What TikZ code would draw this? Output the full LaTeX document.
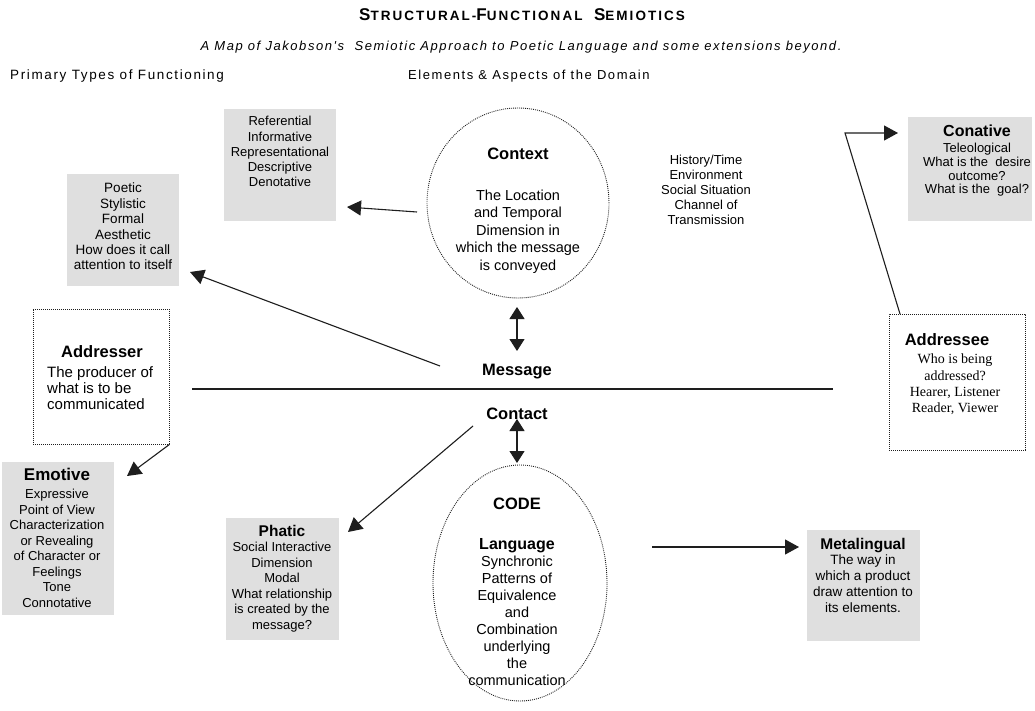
\documentclass[tikz,border=0pt]{standalone}
\usepackage{fontspec}
\setmainfont{Liberation Sans}
\newfontfamily\serifx{Liberation Serif}
\newfontfamily\spacedx[LetterSpace=12]{Liberation Sans}
\newfontfamily\titlex[LetterSpace=15]{Liberation Sans}
\usetikzlibrary{shapes.geometric,arrows.meta}
\definecolor{boxgray}{RGB}{223,223,223}
\definecolor{ink}{RGB}{30,30,30}
\newcommand{\fsz}[2]{\fontsize{#1}{#2}\selectfont}
\newcommand{\TitBig}{\fontsize{17}{20}\selectfont}
\newcommand{\TitSm}{\fontsize{13.5}{20}\selectfont}
\begin{document}
\begin{tikzpicture}[x=1pt,y=-1pt,
  graybox/.style={fill=boxgray, draw=none, inner sep=0pt},
  dotbox/.style={draw=ink, line width=0.9pt, dash pattern=on 0.9pt off 1.1pt, inner sep=0pt},
  dotell/.style={ellipse, draw=ink, line width=0.9pt, dash pattern=on 0.9pt off 1.1pt, inner sep=0pt},
  txt/.style={inner sep=0pt, align=center, anchor=north},
  ttl/.style={inner sep=0pt, anchor=base, font=\bfseries\fsz{16.5}{18}},
  conn/.style={draw=ink, line width=1.1pt},
  arr/.style={conn, -{Triangle[length=14pt,width=15pt]}},
  darr/.style={conn, {Triangle[length=12pt,width=15pt]}-{Triangle[length=12pt,width=15pt]}},
]
\useasboundingbox (0,0) rectangle (1035,711);
\fill[white] (0,0) rectangle (1035,711);

% headings
\node[anchor=base, inner sep=0pt] (title) at (522,21)
  {\titlex\bfseries\TitBig S\TitSm TRUCTURAL-\TitBig F\TitSm UNCTIONAL\ \ \TitBig S\TitSm EMIOTICS};
\node[anchor=base, inner sep=0pt] (sub) at (521,50.7)
  {\spacedx\itshape\fsz{13}{15}A Map of Jakobson's\ \ Semiotic Approach to Poetic Language and some extensions beyond.};
\node[anchor=base west, inner sep=0pt] (h1) at (10,79.7) {\spacedx\fsz{13.5}{15}Primary Types of Functioning};
\node[anchor=base west, inner sep=0pt] (h2) at (408,79.7) {\spacedx\fsz{13}{15}Elements \& Aspects of the Domain};

% gray boxes
\node[graybox, minimum width=112pt, minimum height=112pt] (ref) at (280,165) {};
\node[graybox, minimum width=112pt, minimum height=112pt] (poe) at (123,230) {};
\node[graybox, minimum width=124pt, minimum height=104pt] (con) at (970,169) {};
\node[graybox, minimum width=112pt, minimum height=153pt] (emo) at (58,538.5) {};
\node[graybox, minimum width=113pt, minimum height=122pt] (pha) at (282.5,579) {};
\node[graybox, minimum width=113pt, minimum height=111pt] (met) at (863.5,585.5) {};

% dotted boxes
\node[dotbox, minimum width=136pt, minimum height=135pt] (adr) at (101,376.5) {};
\node[dotbox, minimum width=136pt, minimum height=136pt] (ade) at (957,382) {};

% ellipses
\node[dotell, minimum width=182pt, minimum height=190pt] (ctx) at (518,203) {};
\node[dotell, minimum width=174pt, minimum height=236pt] (code) at (520,583) {};

% texts
\node[txt, font=\fsz{13}{15.25}] (reft) at (280,116.2)
  {Referential\\Informative\\Representational\\Descriptive\\Denotative};
\node[txt, font=\fsz{13.5}{15.4}] (poet) at (123,183)
  {Poetic\\Stylistic\\Formal\\Aesthetic\\How does it call\\attention to itself};
\node[ttl] (ctxh) at (518,160) {Context};
\node[txt, font=\fsz{14.5}{17.5}] (ctxt) at (518,189.6)
  {The Location\\and Temporal\\Dimension in\\which the message\\is conveyed};
\node[txt, font=\fsz{13}{15}] (hist) at (706,155.2)
  {History/Time\\Environment\\Social Situation\\Channel of\\Transmission};
\node[ttl, font=\bfseries\fsz{16}{18}] (conh) at (977,136.8) {Conative};
\node[txt, font=\fsz{13}{13.6}] (cont) at (977,143.2)
  {Teleological\\What is the\ \ desire\\outcome?\\What is the\ \ goal?};
\node[ttl] (adeh) at (947,345) {Addressee};
\node[txt, font=\serifx\fsz{14}{16.4}] (adet) at (955,353.8)
  {Who is being\\addressed?\\Hearer, Listener\\Reader, Viewer};
\node[ttl] (msg) at (517,375) {Message};
\node[ttl] (ctc) at (517,419) {Contact};
\node[ttl] (adrh) at (102,357) {Addresser};
\node[txt, anchor=north west, align=left, font=\fsz{15}{16}] (adrt) at (47,366.5)
  {The producer of\\what is to be\\communicated};
\node[ttl, font=\bfseries\fsz{17}{18}] (emoh) at (57,480) {Emotive};
\node[txt, font=\fsz{13}{15.5}] (emot) at (57,489.2)
  {Expressive\\Point of View\\Characterization\\or Revealing\\of Character or\\Feelings\\Tone\\Connotative};
\node[ttl, font=\bfseries\fsz{15.5}{18}] (phah) at (282,536.6) {Phatic};
\node[txt, font=\fsz{13}{15.5}] (phat) at (282,542.2)
  {Social Interactive\\Dimension\\Modal\\What relationship\\is created by the\\message?};
\node[ttl] (codeh) at (517,509) {CODE};
\node[ttl, font=\bfseries\fsz{16}{18}] (lang) at (517,549.8) {Language};
\node[txt, font=\fsz{14.5}{17}] (codet) at (517,555.6)
  {Synchronic\\Patterns of\\Equivalence\\and\\Combination\\underlying\\the\\communication};
\node[ttl, font=\bfseries\fsz{15.5}{18}] (meth) at (863,549.6) {Metalingual};
\node[txt, font=\fsz{13.5}{15.7}] (mett) at (863,555)
  {The way in\\which a product\\draw attention to\\its elements.};

% connector points
\coordinate (ctxout) at (417,212);
\coordinate (refin) at (347,207);
\coordinate (msgout) at (440,366);
\coordinate (poein) at (190,272);
\coordinate (ctxbot) at (517,307);
\coordinate (msgtop) at (517,351);
\coordinate (ctcbot) at (517,419);
\coordinate (codetop) at (517,463);
\coordinate (ctcout) at (473,426);
\coordinate (phain) at (348,532);
\coordinate (emoin) at (127,476);
\coordinate (adetop) at (900,314);
\coordinate (bend) at (845,133);
\coordinate (conin) at (898,133);
\coordinate (codeout) at (652,547);
\coordinate (metin) at (799,547);
\coordinate (hl) at (192,389);
\coordinate (hr) at (833,389);

% connectors
\draw[conn] (hl) -- (hr);
\draw[arr] (ctxout) -- (refin);
\draw[arr] (msgout) -- (poein);
\draw[darr] (ctxbot) -- (msgtop);
\draw[darr] (ctcbot) -- (codetop);
\draw[arr] (ctcout) -- (phain);
\draw[arr] (adr.south east) -- (emoin);
\draw[arr] (adetop) -- (bend) -- (conin);
\draw[arr] (codeout) -- (metin);
\end{tikzpicture}
\end{document}
